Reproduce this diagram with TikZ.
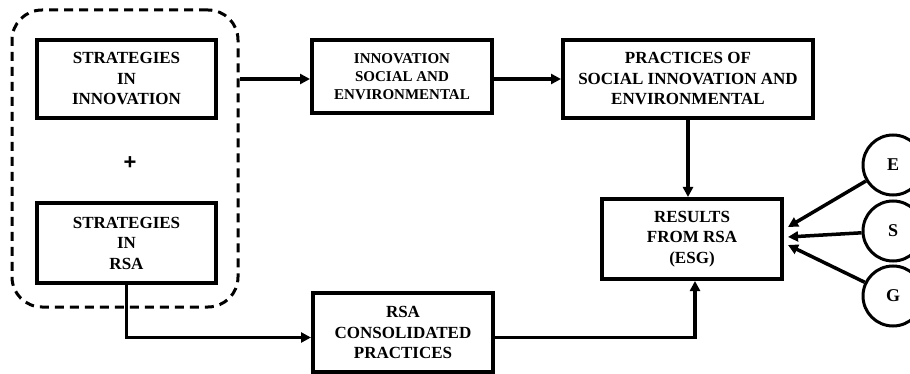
\documentclass[tikz,border=0pt]{standalone}
\usepackage{fontspec}
\setmainfont{Liberation Serif}
\newfontfamily\plusfont{Liberation Sans}
\usetikzlibrary{arrows.meta,calc}
\begin{document}
\begin{tikzpicture}[x=1pt,y=-1pt,
  box/.style={draw,line width=4pt,rectangle,inner sep=0pt,align=center,
    font=\fontsize{17}{20.5}\selectfont\bfseries},
  boxs/.style={box,font=\fontsize{15}{18.3}\selectfont\bfseries},
  grpbox/.style={draw,line width=3pt,dash pattern=on 9pt off 6pt,rounded corners=30pt,
    rectangle,inner sep=0pt},
  ring/.style={draw,circle,line width=3pt,minimum size=60pt,inner sep=0pt,
    font=\fontsize{18}{20}\selectfont\bfseries},
  conn/.style={line width=3.5pt,-{Triangle[length=10pt,width=10pt]}}
]
\useasboundingbox (0,0) rectangle (910,374);
\node[grpbox,minimum width=226pt,minimum height=297pt] (grp) at (125,158.5) {};
\node[box,minimum width=179pt,minimum height=78pt] (sInn) at (126.5,79) {STRATEGIES\\IN\\INNOVATION};
\node[font=\fontsize{22}{22}\selectfont\bfseries\plusfont] (plus) at (130,163) {+};
\node[box,minimum width=179pt,minimum height=80pt] (sRSA) at (126.5,243) {STRATEGIES\\IN\\RSA};
\node[boxs,minimum width=180pt,minimum height=73pt] (inno) at (402,76.5) {INNOVATION\\SOCIAL AND\\ENVIRONMENTAL};
\node[box,minimum width=250pt,minimum height=78pt] (prac) at (688,79) {PRACTICES OF\\SOCIAL INNOVATION AND\\ENVIRONMENTAL};
\node[box,minimum width=180pt,minimum height=80pt] (res) at (692,239) {RESULTS\\FROM RSA\\(ESG)};
\node[box,minimum width=180pt,minimum height=79pt] (cons) at (403,332.5) {RSA\\CONSOLIDATED\\PRACTICES};
\node[ring] (E) at (893,165) {E};
\node[ring] (S) at (893,231) {S};
\node[ring] (G) at (893,296) {G};
\coordinate (consin) at ($(cons.west)+(0,5)$);
\coordinate (resE) at ($(res.east)+(4,-12)$);
\coordinate (resS) at ($(res.east)+(4,-2)$);
\coordinate (resG) at ($(res.east)+(4,6)$);
\draw[conn] (grp.east |- sInn) -- (inno.west |- sInn);
\draw[conn] (inno.east |- prac) -- (prac.west);
\draw[conn] (prac.south) -- (prac.south |- res.north);
\draw[conn] (sRSA.south) |- (consin);
\draw[conn] ($(cons.east)+(0,5)$) -| ($(res.south)+(3,0)$);
\draw[conn] (E) -- (resE);
\draw[conn] (S) -- (resS);
\draw[conn] (G) -- (resG);
\end{tikzpicture}
\end{document}
